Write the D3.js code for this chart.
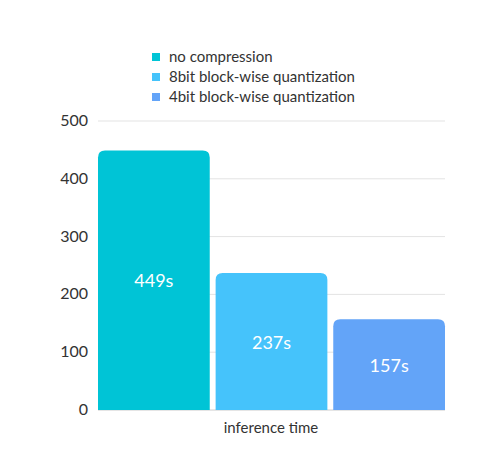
<!DOCTYPE html><html><head><meta charset="utf-8"><script src="https://cdn.jsdelivr.net/npm/d3@7"></script>
<style>body{margin:0;background:#fff}text{font-family:Lato,"Open Sans",sans-serif}</style></head><body><svg width="500" height="453"></svg>
<script>
const series=["no compression","8bit block-wise quantization","4bit block-wise quantization"];
const values=[449,237,157];
const labels=["449s","237s","157s"];
const category=["inference time"];
const yTicks=[0,100,200,300,400,500];
const colors=["#00c4d6","#45c3fb","#63a4f8"];
const svg=d3.select("svg");
const x=d3.scaleBand().domain(series).range([98,445]).paddingInner(0.05);
const y=d3.scaleLinear().domain([0,500]).range([410,121]);
svg.selectAll(".g").data(yTicks).join("line").attr("x1",98).attr("x2",445).attr("y1",d=>y(d)).attr("y2",d=>y(d)).attr("stroke",d=>d===0?"#ccc":"#e3e3e3");
svg.selectAll(".yt").data(yTicks).join("text").attr("x",88).attr("y",d=>y(d)+5).attr("text-anchor","end").attr("font-size",16).attr("fill","#333").text(d=>d);
const r=7;
svg.selectAll(".b").data(values).join("path").attr("fill",(d,i)=>colors[i]).attr("d",(d,i)=>{const x0=x(series[i]),w=x.bandwidth(),y0=y(d),yb=y(0);return `M${x0},${yb}V${y0+r}Q${x0},${y0} ${x0+r},${y0}H${x0+w-r}Q${x0+w},${y0} ${x0+w},${y0+r}V${yb}Z`;});
svg.selectAll(".bl").data(values).join("text").attr("x",(d,i)=>x(series[i])+x.bandwidth()/2).attr("y",d=>(y(d)+y(0))/2+7).attr("text-anchor","middle").attr("font-size",18).attr("fill","#fff").text((d,i)=>labels[i]);
svg.append("text").attr("x",271).attr("y",433).attr("text-anchor","middle").attr("font-size",15).attr("fill","#333").text(category[0]);
const lg=svg.selectAll(".lg").data(series).join("g").attr("transform",(d,i)=>`translate(152,${52+i*20})`);
lg.append("rect").attr("width",8).attr("height",8).attr("y",1).attr("fill",(d,i)=>colors[i]);
lg.append("text").attr("x",17).attr("y",10).attr("font-size",15).attr("fill","#333").text(d=>d);
</script></body></html>
